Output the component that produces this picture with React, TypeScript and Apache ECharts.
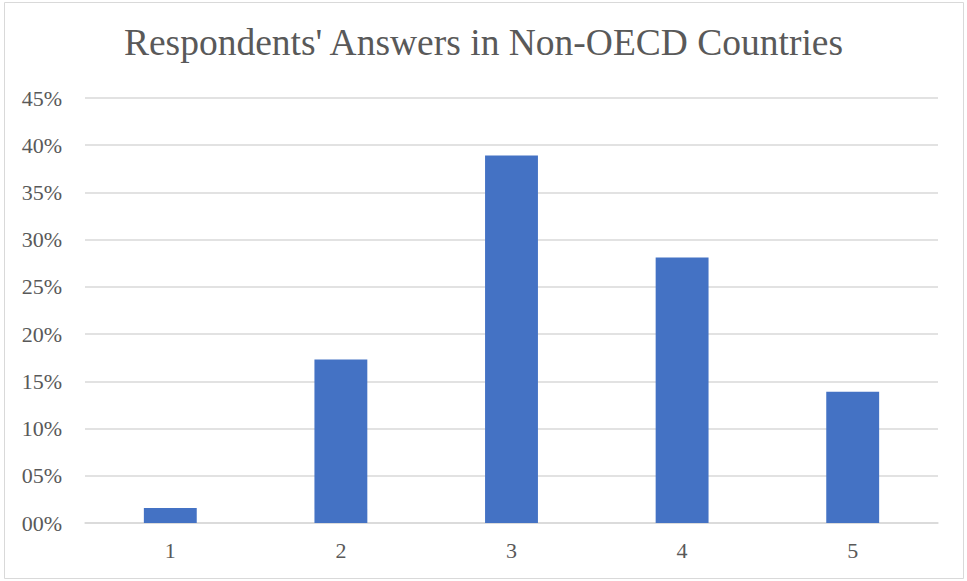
import React, { useEffect, useRef } from "react";
import * as echarts from "echarts";

const categories = ["1", "2", "3", "4", "5"];
const shares = [1.6, 17.3, 38.9, 28.1, 13.9];
const titleText = "Respondents' Answers in Non-OECD Countries";

export default function App() {
  const ref = useRef<HTMLDivElement>(null);
  useEffect(() => {
    document.body.style.margin = "0";
    const chart = echarts.init(ref.current!, undefined, { renderer: "svg" });
    const font = "Liberation Serif";
    chart.setOption({
      animation: false,
      backgroundColor: "#ffffff",
      title: {
        text: titleText,
        left: "center",
        top: 18,
        textStyle: { fontFamily: font, fontSize: 37.5, fontWeight: "normal", color: "#595959" },
      },
      graphic: [
        {
          type: "rect",
          shape: { x: 4.5, y: 2.5, width: 959, height: 576 },
          style: { fill: "none", stroke: "#d9d9d9", lineWidth: 1 },
          silent: true,
        },
      ],
      grid: { left: 85, right: 29, top: 98, bottom: 58, containLabel: false },
      xAxis: {
        type: "category",
        data: categories,
        axisLine: { show: true, lineStyle: { color: "#d9d9d9", width: 1.5 } },
        axisTick: { show: false },
        axisLabel: { fontFamily: font, fontSize: 22, color: "#595959", margin: 16 },
      },
      yAxis: {
        type: "value",
        min: 0,
        max: 45,
        interval: 5,
        axisLine: { show: false },
        axisTick: { show: false },
        splitLine: { lineStyle: { color: "#d9d9d9", width: 1.5 } },
        axisLabel: {
          fontFamily: font,
          fontSize: 22,
          color: "#595959",
          margin: 23,
          formatter: (v: number) => String(v).padStart(2, "0") + "%",
        },
      },
      series: [
        {
          type: "bar",
          data: shares,
          barWidth: "31%",
          itemStyle: { color: "#4472c4" },
        },
      ],
    });
    return () => chart.dispose();
  }, []);
  return <div ref={ref} style={{ width: 967, height: 581 }} />;
}
